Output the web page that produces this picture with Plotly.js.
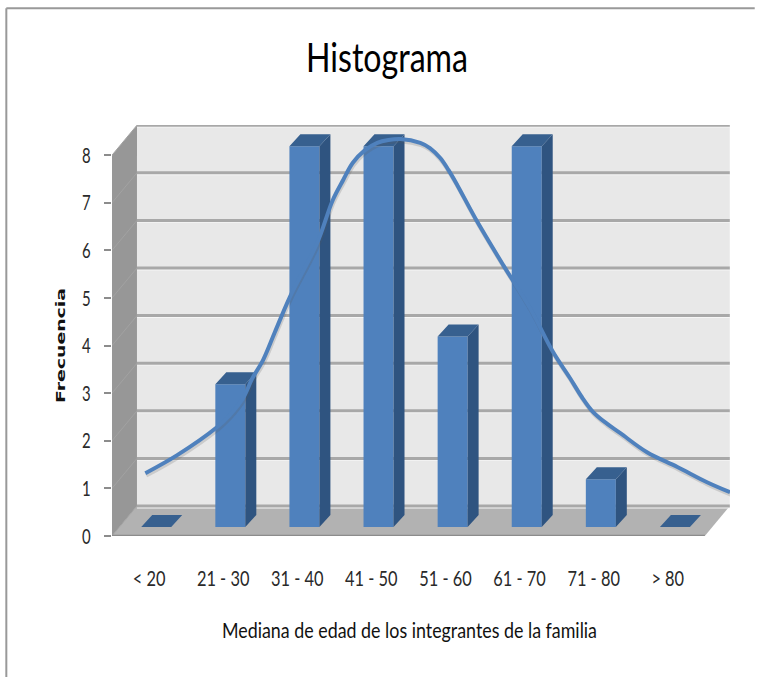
<!DOCTYPE html>
<html><head><meta charset="utf-8">
<script src="https://cdn.plot.ly/plotly-3.0.1.min.js"></script>
<style>html,body{margin:0;padding:0;background:#fff}</style></head>
<body><div id="chart" style="width:758px;height:677px"></div>
<script>
const categories = ["< 20","21 - 30","31 - 40","41 - 50","51 - 60","61 - 70","71 - 80","> 80"];
const frequencies = [0,3,8,8,4,8,1,0];
const yTicks = [0,1,2,3,4,5,6,7,8];
const trendX = [-0.05,0.38,0.92,1.09,1.27,1.39,1.54,1.70,1.90,2.27,2.48,2.62,2.75,2.91,3.08,3.23,3.39,3.66,3.79,3.93,4.04,4.16,4.43,4.78,5.14,5.45,5.68,5.84,5.99,6.17,6.36,6.72,7.13,7.53,7.84];
const trendY = [1.32,1.70,2.29,2.54,2.90,3.30,3.70,4.29,5.02,6.16,7.06,7.48,7.84,8.10,8.26,8.32,8.34,8.26,8.15,7.94,7.69,7.37,6.60,5.69,4.79,3.87,3.32,2.92,2.61,2.37,2.16,1.76,1.45,1.13,0.92];

const idx = categories.map((_,i)=>i);
// 3D-look projection in data units
const wallDX = 0.337, wallDY = 0.63;   // depth of chart box
const barOX = 0.097, barOY = 0.19;     // front-face offset of the bars inside the box
const barW = 0.405, barDX = 0.148, barDY = 0.252; // bar width and depth
const xL = -0.5, xR = 7.5, yMax = 8;

function poly(pts){ return 'M'+pts.map(p=>p[0]+','+p[1]).join('L')+'Z'; }
const shapes = [];
const face = (pts,fill)=>shapes.push({type:'path',xref:'x',yref:'y',layer:'below',path:poly(pts),fillcolor:fill,line:{width:0}});
face([[xL+wallDX,wallDY],[xR+wallDX,wallDY],[xR+wallDX,yMax+wallDY],[xL+wallDX,yMax+wallDY]],'#e8e8e8');
face([[xL,0],[xL+wallDX,wallDY],[xL+wallDX,yMax+wallDY],[xL,yMax]],'#979797');
face([[xL,0],[xR,0],[xR+wallDX,wallDY],[xL+wallDX,wallDY]],'#b2b2b2');
yTicks.forEach(v=>{
  shapes.push({type:'line',xref:'x',yref:'y',layer:'below',x0:xL+wallDX,x1:xR+wallDX,y0:v+wallDY-0.035,y1:v+wallDY-0.035,line:{color:'#f6f6f6',width:1.5}});
  shapes.push({type:'line',xref:'x',yref:'y',layer:'below',x0:xL+wallDX,x1:xR+wallDX,y0:v+wallDY,y1:v+wallDY,line:{color:'#a8a8a8',width:3}});
  shapes.push({type:'line',xref:'x',yref:'y',layer:'below',x0:xL,x1:xL+wallDX,y0:v,y1:v+wallDY,line:{color:'#a2a2a2',width:1}});
});
shapes.push({type:'line',xref:'x',yref:'y',layer:'below',x0:xL,x1:xR,y0:0,y1:0,line:{color:'#8c8c8c',width:2.5}});
// outer frame of the picture
shapes.push({type:'line',xref:'paper',yref:'paper',x0:-0.171,x1:1.04,y0:1.284,y1:1.284,line:{color:'#999999',width:2}});
shapes.push({type:'line',xref:'paper',yref:'paper',x0:-0.171,x1:-0.171,y0:1.284,y1:-0.343,line:{color:'#999999',width:2}});

const sideX=[],sideY=[],topX=[],topY=[];
frequencies.forEach((v,i)=>{
  const l=i+barOX-barW/2, r=i+barOX+barW/2, t=v+barOY, b=barOY;
  if(v>0){ sideX.push(r,r+barDX,r+barDX,r,r,null); sideY.push(b,b+barDY,t+barDY,t,b,null); }
  topX.push(l,r,r+barDX,l+barDX,l,null); topY.push(t,t,t+barDY,t+barDY,t,null);
});
const traces = [
 {type:'scatter',mode:'lines',x:sideX,y:sideY,fill:'toself',fillcolor:'#2f5480',line:{width:0},hoverinfo:'skip',showlegend:false},
 {type:'scatter',mode:'lines',x:topX,y:topY,fill:'toself',fillcolor:'#37608f',line:{width:0},hoverinfo:'skip',showlegend:false},
 {type:'bar',x:idx.map(i=>i+barOX),y:frequencies,base:barOY,width:barW,marker:{color:'#4f81bd',line:{width:0}},showlegend:false},
 {type:'scatter',mode:'lines',x:trendX.map(v=>v+0.012),y:trendY.map(v=>v-0.05),line:{color:'rgba(90,90,90,0.2)',width:4,shape:'spline',smoothing:1},hoverinfo:'skip',showlegend:false,cliponaxis:false},
 {type:'scatter',mode:'lines',x:trendX,y:trendY,line:{color:'#4f81bd',width:4,shape:'spline',smoothing:1},showlegend:false,cliponaxis:false}
];
const face1 = 'Lato,"Open Sans",sans-serif';
const layout = {
  width:758,height:677,
  margin:{l:112,r:28,t:125,b:141,pad:0},
  paper_bgcolor:'#ffffff',plot_bgcolor:'rgba(0,0,0,0)',
  title:{text:'Histograma',font:{family:face1,size:40,color:'#000'},x:387/758,xanchor:'center',y:1-58/677,yanchor:'middle'},
  xaxis:{range:[-0.5,7.84],tickvals:idx,ticktext:categories,ticks:'',ticklabelstandoff:28,showgrid:false,zeroline:false,showline:false,
         tickfont:{family:face1,size:21,color:'#2a2a2a'},
         title:{text:'Mediana de edad de los integrantes de la familia',font:{family:face1,size:21,color:'#111'},standoff:34}},
  yaxis:{range:[0,8.634],tickvals:yTicks,ticks:'outside',ticklen:7,tickwidth:1.5,tickcolor:'#8c8c8c',ticklabelstandoff:9,showgrid:false,zeroline:false,showline:false,
         tickfont:{family:face1,size:22,color:'#2a2a2a'},
         title:{text:'Frecuencia',font:{family:'"DejaVu Sans",sans-serif',size:13,color:'#111',weight:'bold'},standoff:14}},
  shapes:shapes,showlegend:false
};
// Condense the real text elements so they take the narrow look of the reference
function condense(sel, len){
  document.querySelectorAll(sel).forEach(t=>{
    const natural=t.getComputedTextLength();
    t.setAttribute('textLength', typeof len==='function'?len(natural):len);
    t.setAttribute('lengthAdjust','spacingAndGlyphs');
  });
}
function nudge(sel,dx,dy){
  document.querySelectorAll(sel).forEach(t=>{
    const old=t.getAttribute('transform')||'';
    t.setAttribute('transform','translate('+dx+','+dy+') '+old);
  });
}
Plotly.newPlot('chart',traces,layout,{displayModeBar:false,responsive:false}).then(()=>{
  condense('.gtitle',162);
  condense('.xtitle',375);
  condense('.ytitle',115);
  condense('.xtick text',n=>n*0.78);
  condense('.ytick text',n=>n*0.68);
  nudge('.xtitle',-11.5,0);
  nudge('.ytitle',5,15);
});
</script></body></html>
